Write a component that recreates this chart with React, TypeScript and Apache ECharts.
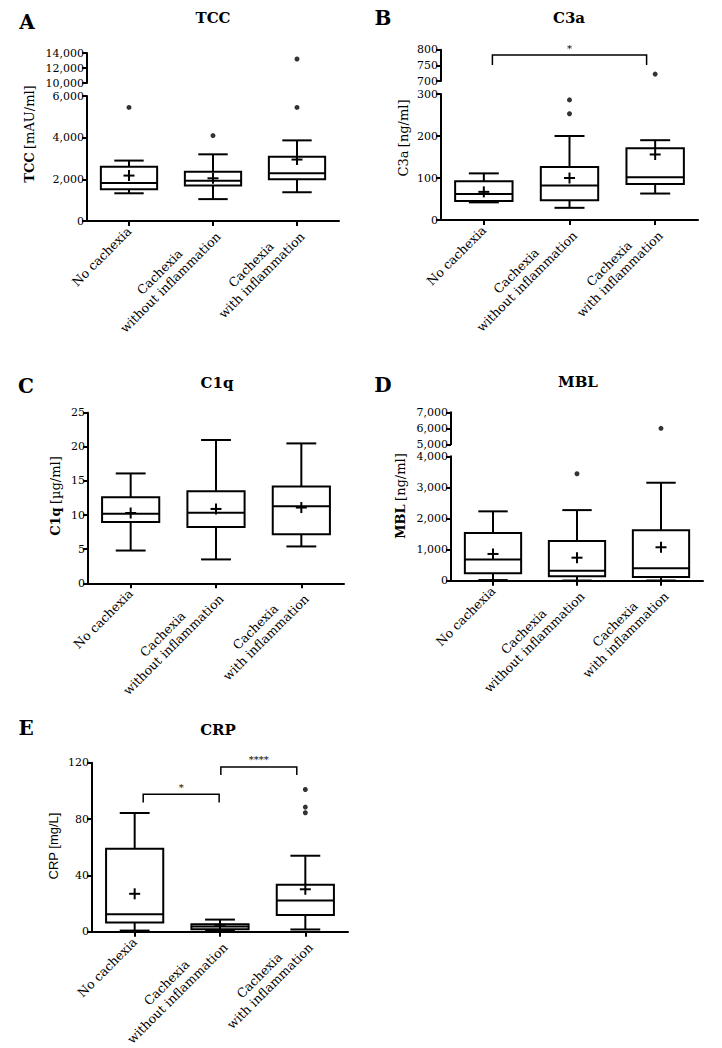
import React, { useEffect, useRef } from "react";
import * as echarts from "echarts";

const categories = ["No cachexia", "Cachexia\nwithout inflammation", "Cachexia\nwith inflammation"];

// box values: [min, Q1, median, Q3, max]
const tccBoxes = [[1330, 1520, 1820, 2600, 2900], [1050, 1700, 1930, 2370, 3200], [1380, 2000, 2290, 3090, 3870]];
const tccMeans = [2180, 2050, 2950];
const tccOutliers = [[0, 5450], [1, 4100], [2, 5450]];
const tccOutliersHigh = [[2, 13200]];

const c3aBoxes = [[42, 45, 62, 92, 111], [29, 47, 82, 126, 200], [63, 86, 102, 171, 190]];
const c3aMeans = [67, 100, 156];
const c3aOutliers = [[1, 253], [1, 286]];
const c3aOutliersHigh = [[2, 722]];
const c3aBrackets = [{ from: 0, to: 2, y: 783, drop: 751, label: "*" }];

const c1qBoxes = [[4.8, 9.0, 10.2, 12.6, 16.1], [3.5, 8.25, 10.35, 13.5, 21.0], [5.4, 7.2, 11.3, 14.2, 20.5]];
const c1qMeans = [10.3, 10.9, 11.1];

const mblBoxes = [[20, 240, 680, 1530, 2230], [5, 140, 320, 1275, 2270], [5, 120, 400, 1620, 3150]];
const mblMeans = [860, 740, 1075];
const mblOutliers = [[1, 3440]];
const mblOutliersHigh = [[2, 6000]];

const crpBoxes = [[0.9, 6.6, 12.5, 59, 84.3], [1, 1.9, 3.8, 5.4, 8.7], [1.7, 12, 22.2, 33.5, 54]];
const crpMeans = [27, 5, 30.2];
const crpOutliers = [[2, 101], [2, 88.5], [2, 84.5]];
const crpBrackets = [
  { from: 0, to: 1, y: 97.6, drop: 91.8, label: "*" },
  { from: 1, to: 2, y: 117, drop: 111.3, label: "****" },
];

const SERIF = "'DejaVu Serif', serif";
const SANS = "'Liberation Sans', Arial, sans-serif";

const fmt = (v: number) => String(v).replace(/\B(?=(\d{3})+(?!\d))/g, ",");

function renderBox(params: any, api: any) {
  const cat = api.value(0);
  const mn = api.value(1), q1 = api.value(2), md = api.value(3), q3 = api.value(4), mx = api.value(5), mean = api.value(6);
  const cx = api.coord([cat, mn])[0];
  const band = api.size([1, 0])[0];
  const bw = band * 0.67;
  const cw = band * 0.35;
  const pw = 5.5;
  const Y = (v: number) => api.coord([cat, v])[1];
  const st = { stroke: "#000", lineWidth: 2, fill: null };
  const ln = (x1: number, y1: number, x2: number, y2: number) => ({ type: "line", shape: { x1, y1, x2, y2 }, style: st });
  return {
    type: "group",
    children: [
      ln(cx, Y(mn), cx, Y(q1)),
      ln(cx, Y(q3), cx, Y(mx)),
      ln(cx - cw / 2, Y(mn), cx + cw / 2, Y(mn)),
      ln(cx - cw / 2, Y(mx), cx + cw / 2, Y(mx)),
      { type: "rect", shape: { x: cx - bw / 2, y: Y(q3), width: bw, height: Y(q1) - Y(q3) }, style: { stroke: "#000", lineWidth: 2, fill: "#fff" } },
      ln(cx - bw / 2, Y(md), cx + bw / 2, Y(md)),
      ln(cx - pw, Y(mean), cx + pw, Y(mean)),
      ln(cx, Y(mean) - pw, cx, Y(mean) + pw),
    ],
  };
}

function makeBracketRender(brackets: any[]) {
  return (params: any, api: any) => {
    const b = brackets[params.dataIndex];
    const band = api.size([1, 0])[0];
    const inset = (c: number, dir: number) => (c === 1 ? 0.01 : 0.1) * band * dir;
    const x1 = api.coord([b.from, b.y])[0] + inset(b.from, 1);
    const x2 = api.coord([b.to, b.y])[0] + inset(b.to, -1);
    const yt = api.coord([b.from, b.y])[1];
    const yd = api.coord([b.from, b.drop])[1];
    const st = { stroke: "#000", lineWidth: 1.5, fill: null };
    return {
      type: "group",
      children: [
        { type: "polyline", shape: { points: [[x1, yd], [x1, yt], [x2, yt], [x2, yd]] }, style: st },
        {
          type: "text",
          style: { text: b.label, x: (x1 + x2) / 2, y: yt - 2, align: "center", textAlign: "center", verticalAlign: "bottom", textVerticalAlign: "bottom", font: `10px ${SERIF}`, fill: "#000" },
        },
      ],
    };
  };
}

const axisLineStyle = { color: "#000", width: 2 };

function yAxis(gridIndex: number, min: number, max: number, interval: number) {
  return {
    type: "value",
    gridIndex,
    min,
    max,
    interval,
    axisLine: { show: true, lineStyle: axisLineStyle },
    axisTick: { show: true, length: 5, lineStyle: axisLineStyle },
    axisLabel: { color: "#000", fontFamily: SERIF, fontSize: 11, margin: 3, formatter: (v: number) => fmt(v) },
    splitLine: { show: false },
  };
}

function xAxis(gridIndex: number, visible: boolean) {
  return {
    type: "category",
    gridIndex,
    data: categories,
    show: visible,
    boundaryGap: true,
    axisLine: { show: true, onZero: false, lineStyle: axisLineStyle },
    axisTick: { show: true, alignWithLabel: true, length: 5, lineStyle: axisLineStyle },
    axisLabel: {
      rotate: 45,
      interval: 0,
      margin: 8,
      formatter: (v: string) => v.split("\n").map((s) => `{c|${s}}`).join("\n"),
      rich: { c: { align: "center", fontFamily: SERIF, fontSize: 12.5, color: "#000", lineHeight: 15 } },
    },
    splitLine: { show: false },
  };
}

type PanelCfg = {
  left: number;
  width: number;
  top: number;
  height: number;
  axis: [number, number, number];
  upper?: { top: number; height: number; axis: [number, number, number] };
  boxes: number[][];
  means: number[];
  outliers?: number[][];
  outliersHigh?: number[][];
  brackets?: any[];
  bracketsUpper?: boolean;
};

function buildOption() {
  const grid: any[] = [];
  const xAxes: any[] = [];
  const yAxes: any[] = [];
  const series: any[] = [];

  const addPanel = (p: PanelCfg) => {
    const gi = grid.length;
    grid.push({ left: p.left, top: p.top, width: p.width, height: p.height, containLabel: false });
    xAxes.push(xAxis(gi, true));
    yAxes.push(yAxis(gi, p.axis[0], p.axis[1], p.axis[2]));
    series.push({
      type: "custom",
      xAxisIndex: gi,
      yAxisIndex: gi,
      renderItem: renderBox,
      data: p.boxes.map((b, i) => [i, ...b, p.means[i]]),
      z: 3,
    });
    if (p.outliers) {
      series.push({ type: "scatter", xAxisIndex: gi, yAxisIndex: gi, data: p.outliers, symbol: "circle", symbolSize: 5, itemStyle: { color: "#000" }, z: 4 });
    }
    let ui = -1;
    if (p.upper) {
      ui = grid.length;
      grid.push({ left: p.left, top: p.upper.top, width: p.width, height: p.upper.height, containLabel: false });
      xAxes.push(xAxis(ui, false));
      yAxes.push(yAxis(ui, p.upper.axis[0], p.upper.axis[1], p.upper.axis[2]));
      if (p.outliersHigh) {
        series.push({ type: "scatter", xAxisIndex: ui, yAxisIndex: ui, data: p.outliersHigh, symbol: "circle", symbolSize: 5, itemStyle: { color: "#000" }, z: 4 });
      }
    }
    if (p.brackets) {
      const bi = p.bracketsUpper ? ui : gi;
      series.push({
        type: "custom",
        xAxisIndex: bi,
        yAxisIndex: bi,
        renderItem: makeBracketRender(p.brackets),
        data: p.brackets.map((b) => [b.from, b.y]),
        clip: false,
        z: 5,
      });
    }
  };

  addPanel({ left: 87, width: 252, top: 96, height: 125, axis: [0, 6000, 2000], upper: { top: 53, height: 30, axis: [10000, 14000, 2000] }, boxes: tccBoxes, means: tccMeans, outliers: tccOutliers, outliersHigh: tccOutliersHigh });
  addPanel({ left: 441, width: 257, top: 94, height: 126, axis: [0, 300, 100], upper: { top: 49.7, height: 31.3, axis: [700, 800, 50] }, boxes: c3aBoxes, means: c3aMeans, outliers: c3aOutliers, outliersHigh: c3aOutliersHigh, brackets: c3aBrackets, bracketsUpper: true });
  addPanel({ left: 88, width: 256, top: 412.7, height: 170.6, axis: [0, 25, 5], boxes: c1qBoxes, means: c1qMeans });
  addPanel({ left: 451, width: 252, top: 456.3, height: 124.4, axis: [0, 4000, 1000], upper: { top: 412.3, height: 32, axis: [5000, 7000, 1000] }, boxes: mblBoxes, means: mblMeans, outliers: mblOutliers, outliersHigh: mblOutliersHigh });
  addPanel({ left: 92, width: 256, top: 762.7, height: 169.3, axis: [0, 120, 40], boxes: crpBoxes, means: crpMeans, outliers: crpOutliers, brackets: crpBrackets });

  const txt = (text: string, x: number, y: number, font: string) => ({
    type: "text",
    x,
    y,
    style: { text, font, fill: "#000", align: "center", textAlign: "center", verticalAlign: "middle", textVerticalAlign: "middle" },
  });
  const letterFont = `bold 20px ${SERIF}`;
  const titleFont = `bold 15px ${SERIF}`;
  const yName = (bold: string, rest: string, x: number, y: number, family: string, boldWeight: string) => ({
    type: "text",
    x,
    y,
    rotation: Math.PI / 2,
    style: {
      text: `{b|${bold}} {n|${rest}}`,
      align: "center",
      textAlign: "center",
      verticalAlign: "middle",
      textVerticalAlign: "middle",
      fill: "#000",
      rich: {
        b: { fontFamily: family, fontSize: 13, fontWeight: boldWeight, fill: "#000" },
        n: { fontFamily: family, fontSize: 13, fontWeight: "normal", fill: "#000" },
      },
    },
  });

  const graphic = [
    txt("A", 27, 22, letterFont),
    txt("B", 383, 18, letterFont),
    txt("C", 26, 386, letterFont),
    txt("D", 383, 385, letterFont),
    txt("E", 26, 728, letterFont),
    txt("TCC", 213, 18, titleFont),
    txt("C3a", 569, 18, titleFont),
    txt("C1q", 217, 383, titleFont),
    txt("MBL", 578, 382, titleFont),
    txt("CRP", 218, 730, titleFont),
    yName("TCC", "[mAU/ml]", 29, 134, SERIF, "bold"),
    yName("C3a", "[ng/ml]", 403, 138, SERIF, "normal"),
    yName("C1q", "[µg/ml]", 55, 496, SERIF, "bold"),
    yName("MBL", "[ng/ml]", 400, 496, SERIF, "bold"),
    yName("CRP", "[mg/L]", 53, 846, SANS, "normal"),
  ];

  return {
    animation: false,
    backgroundColor: "#fff",
    grid,
    xAxis: xAxes,
    yAxis: yAxes,
    series,
    graphic,
  };
}

export default function App() {
  const ref = useRef<HTMLDivElement>(null);
  useEffect(() => {
    if (!ref.current) return;
    const chart = echarts.init(ref.current, undefined, { renderer: "svg" });
    chart.setOption(buildOption() as any);
    return () => chart.dispose();
  }, []);
  return <div ref={ref} style={{ position: "absolute", left: 0, top: 0, width: 722, height: 1048, background: "#fff" }} />;
}
